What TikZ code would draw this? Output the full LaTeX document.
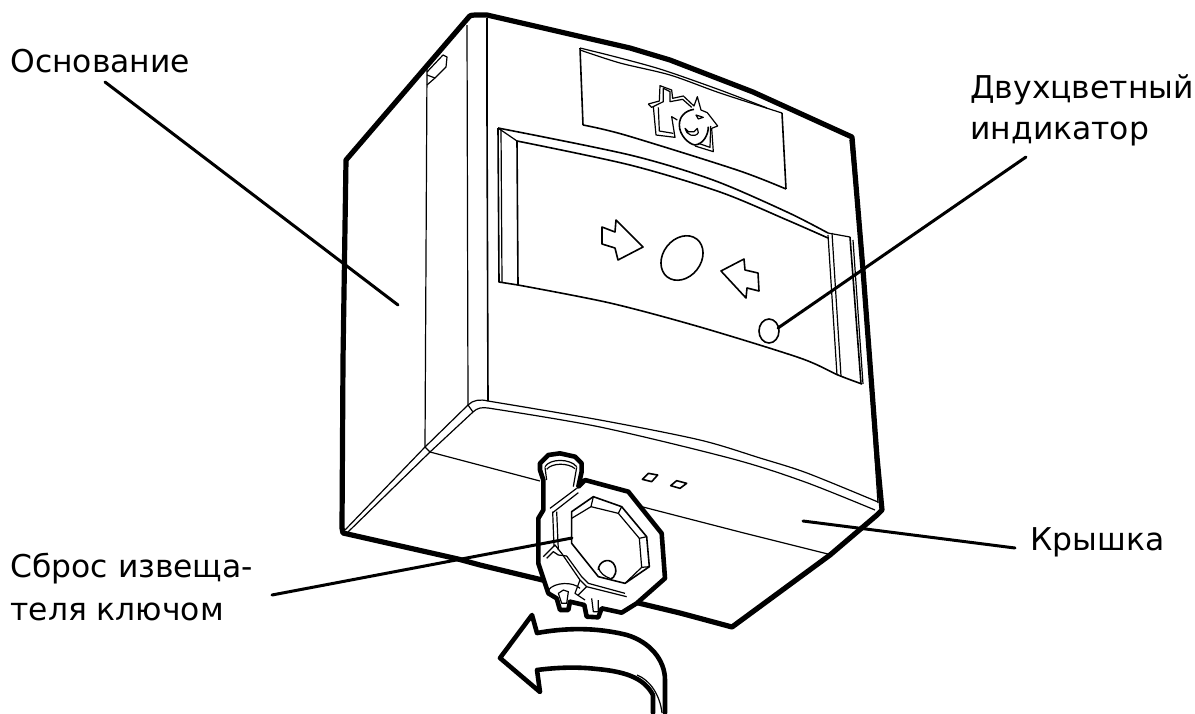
\documentclass[tikz,border=0pt]{standalone}
\usepackage{fontspec}
\setmainfont{DejaVu Sans}
\tikzset{
  thick line/.style={line width=2.6pt,line join=round,line cap=round},
  key line/.style={line width=2.3pt,line join=round,line cap=round},
  lead/.style={line width=1.5pt,line cap=round},
  fine/.style={line width=0.6pt,line join=round},
  medium/.style={line width=0.8pt,line join=round},
  lab/.style={anchor=base west,inner sep=0pt,font=\fontsize{15.7pt}{18pt}\selectfont,text=black}
}
\begin{document}
\begin{tikzpicture}[x=0.5pt,y=-0.5pt]
\useasboundingbox[fill=white] (0,0) rectangle (1195,713);
% ---- body fine lines
\draw[fine] (427,68)--(425,447);
\draw[fine] (467,25)--(468,405);
\draw[medium] (487,18)--(487,113)--(488,401);
\draw[fine] (425,447)--(468,405) .. controls (473,400) and (480,399) .. (488,401);
\draw[fine] (345,530)--(425,447);
\draw[fine] (348,532)--(430,452)--(473,412) .. controls (477,408) and (482,407) .. (488,408);
\draw[fine] (425,447)--(430,452)--(540,481);
\draw[fine] (468,405)--(473,412);
\draw[fine] plot[smooth,tension=0.5] coordinates {(488,401)(600,420)(700,440)(760,458)(807,473)(878,502)};
\draw[fine] plot[smooth,tension=0.5] coordinates {(488,408)(600,427)(733,459)(805,482)(875,510)};
\draw[fine] (643,507)--(740,532)--(828,554);
\draw[fine] (850,140)--(862,260)--(878,503);
% slot
\draw[fine] (427,72)--(443,55)--(447,57)--(446,67)--(435,78)--(427,85);
\draw[fine] (427,75)--(435,78);
% top strip and plate
\draw[fine] plot[smooth,tension=0.5] coordinates {(580,48)(620,58)(663,70)(720,90)(767,108)};
\draw[fine] plot[smooth,tension=0.5] coordinates {(580,50)(620,63)(670,75)(720,93)(782,113)};
\draw[medium] (580,48)--(583,125);
\draw[medium] plot[smooth,tension=0.5] coordinates {(583,125)(625,135)(737,170)(786,189)};
\draw[medium] (786,189)--(782,113);
% window
\draw[medium] plot[smooth,tension=0.5] coordinates {(498,128)(630,155)(713,180)(787,212)(828,233)};
\draw[fine] (828,233)--(850,237);
\draw[medium] plot[smooth,tension=0.5] coordinates {(517,141)(630,165)(720,192)(787,220)(828,238)};
\draw[medium] (498,128)--(499,282)--(518,285);
\draw[medium] plot[smooth,tension=0.5] coordinates {(518,285)(610,303)(700,327)(800,358)(838,375)(862,384)};
\draw[fine] (501,128)--(502,282);
\draw[medium] (517,141)--(518,285);
\draw[fine] (498,128)--(517,141);
\draw[fine] (828,235)--(837,375);
\draw[fine] (832,233)--(841,376);
\draw[medium] (850,237)--(861,384);
\draw[fine] (853,240)--(863,384);
% arrows, button, led
\draw[medium] (602,227)--(615,232)--(616,220)--(643,247)--(618,260)--(615,248)--(602,244)--cycle;
\draw[medium] (721,271)--(744,259)--(745,270)--(758,273)--(759,291)--(747,288)--(746,298)--cycle;
\draw[medium,rotate around={52:(682,258)}] (682,258) ellipse [x radius=24,y radius=19];
\draw[medium] (769,331) ellipse [x radius=10,y radius=12];
% logo
\begin{scope}[shift={(620,20)},scale=1/3]
\draw[fine] (85,252)--(118,243)--(120,197)--(155,210)--(158,235)--(190,228)--(222,258)--(232,230)--(243,270)--(262,278)--(293,318)--(275,325)--(280,395)--(225,378);
\draw[fine] (85,252)--(95,262)--(130,245)--(130,205)--(150,215)--(150,245)--(188,238)--(215,262);
\draw[fine] (100,260)--(108,345)--(165,352)--(155,290)--(172,300);
\draw[fine] (115,262)--(118,333)--(160,340);
\draw[medium] (222,268) .. controls (195,272) and (178,290) .. (178,315) .. controls (178,345) and (205,372) .. (225,375) .. controls (250,372) and (265,345) .. (265,320);
\draw[fine] (272,318)--(270,382)--(235,370);
\draw[fine] (195,325) .. controls (198,345) and (225,355) .. (235,338)--(232,325)--(222,335)--(205,335)--cycle;
\draw[fine] (228,285)--(250,292)--(235,297)--cycle;
\end{scope}
% ---- thick outline
\draw[thick line] (480,565)--(458,559)--(343,533)--(342,528)--(343,360)--(346,160)--(468,18)
  .. controls (470,15) and (472,15) .. (475,15)--(487,15)--(630,48)--(670,60)--(753,92)--(852,137)--(863,270)--(877,457)--(882,510)--(877,515)--(830,555)--(732,627)--(680,613)--(480,565);
\begin{scope}[shift={(480,430)},scale=1/3]
% knob outline
\draw[key line,fill=white] (195,460)--(175,400)--(175,265)--(190,240)--(190,150)--(180,120)--(180,100)--(205,75)--(240,70)--(285,80)--(305,100)--(305,125)--(295,170)--(315,150)--(445,185)--(545,310)--(555,445)--(470,520)--(425,548)--(365,535)--(355,562)--(320,560)--(313,525)--(270,515)--(265,540)--(240,540)--(230,505)--(205,490)--cycle;
\draw[fine] (195,110) .. controls (210,85) and (270,85) .. (290,110);
\draw[fine] (200,118) .. controls (215,98) and (265,98) .. (285,116);
\draw[fine] (195,112)--(200,150);
\draw[fine] (290,112)--(280,170);
\draw[fine] (205,480) .. controls (225,455) and (280,455) .. (300,475);
\draw[fine] (235,490)--(245,520)--(260,520)--(265,485)--(250,480)--cycle;
\draw[fine] (335,505)--(340,545)--(355,545)--(355,510);
\draw[medium] (505,130)--(533,135)--(515,155)--(487,148)--cycle;
\draw[medium] (590,152)--(620,160)--(600,175)--(572,167)--cycle;
\end{scope}
\begin{scope}[shift={(530,480)},scale=1/3]
\draw[medium] (125,95)--(190,50)--(275,80)--(350,170)--(358,260)--(285,310)--(205,290)--(125,190)--cycle;
\draw[fine] (190,50)--(183,80)--(125,115);
\draw[fine] (183,80)--(265,100)--(275,80);
\draw[fine] (265,100)--(328,175)--(350,170);
\draw[fine] (328,175)--(335,262)--(358,260);
\draw[fine] (335,262)--(285,310);
\draw[medium] (205,270) .. controls (205,245) and (235,232) .. (250,250) .. controls (265,270) and (255,295) .. (240,298);
\draw[fine] (205,262) .. controls (210,280) and (225,290) .. (240,295);
\draw[fine] (68,95)--(72,200);
\draw[fine] (80,95)--(85,210);
\draw[fine] (60,85)--(140,25);
\draw[fine] (68,98)--(145,38);
\draw[fine] (40,230)--(75,195)--(95,220)--(150,300)--(170,320)--(290,350);
\draw[fine] (50,235)--(70,215)--(85,225)--(110,228)--(155,290)--(175,310)--(285,340);
\draw[fine] (150,300)--(135,340)--(165,360);
\draw[fine] (170,320)--(145,345);
\end{scope}
% ---- turn arrow
\draw[key line] (653,713)--(653,695) .. controls (645,680) and (630,672) .. (597,669)
  .. controls (580,667) and (560,667) .. (537,670)--(540,692)--(500,658)--(532,615)--(537,633)
  .. controls (565,628) and (595,627) .. (627,635) .. controls (650,642) and (665,660) .. (665,680)--(665,713);
\draw[fine] (637,675) .. controls (650,680) and (660,695) .. (662,713);
% ---- labels and leaders
\node[lab] (osn) at (10,72) {Основание};
\node[lab] (dvu) at (970,98) {Двухцветный};
\node[lab] (ind) at (970,139) {индикатор};
\node[lab] (kry) at (1030,550) {Крышка};
\node[lab] (sbr) at (10,577) {Сброс извеща-};
\node[lab] (tel) at (10,620) {теля ключом};
\coordinate (a1) at (105,82);
\coordinate (a2) at (398,305);
\coordinate (b1) at (1026,157);
\coordinate (b2) at (778,328);
\coordinate (c1) at (1015,548);
\coordinate (c2) at (803,521);
\coordinate (d1) at (272,595);
\coordinate (d2) at (572,538);
\draw[lead] (a1)--(a2);
\draw[lead] (b1)--(b2);
\draw[lead] (c1)--(c2);
\draw[lead] (d1)--(d2);
\end{tikzpicture}
\end{document}
